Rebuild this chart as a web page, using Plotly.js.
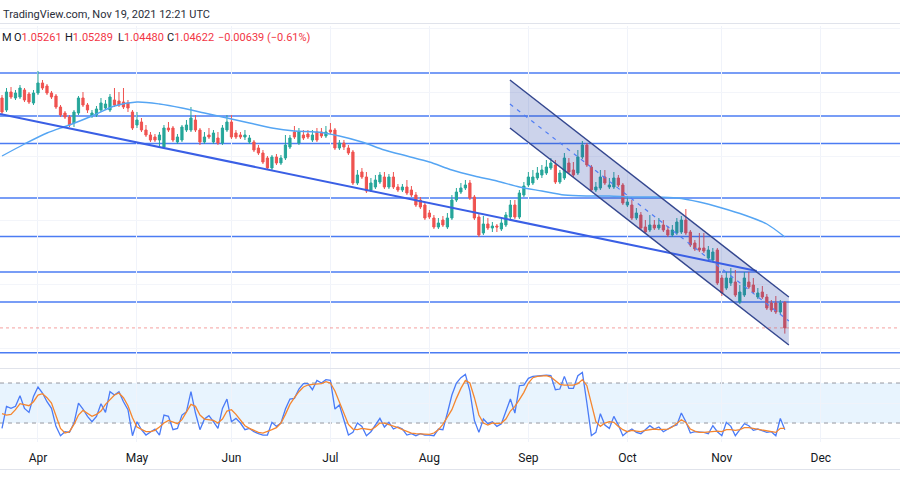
<!DOCTYPE html>
<html>
<head>
<meta charset="utf-8">
<script src="https://cdn.plot.ly/plotly-3.0.1.min.js"></script>
<style>
  html, body { margin: 0; padding: 0; background: #ffffff; }
  #chart { width: 900px; height: 500px; }
</style>
</head>
<body>
<div id="chart"></div>
<script>
// ---------- DATA ----------
const firstDay = '2021-03-22';
const lastDay = '2021-11-19';

const open = [1.1037,1.1007,1.1052,1.1037,1.10395,1.1057,1.1047,1.10245,1.10495,1.10745,
1.1067,1.10495,1.1042,1.10145,1.09995,1.09895,1.09745,1.09995,1.1037,1.10195,
1.0992,1.09945,1.1007,1.1012,1.1007,1.1032,1.10295,1.1027,1.10245,1.1002,
1.09695,1.0977,1.0957,1.09445,1.09395,1.0932,1.09145,1.0962,1.0962,1.0927,
1.0932,1.0957,1.0957,1.0982,1.0957,1.0927,1.09445,1.0927,1.0937,1.09245,
1.0957,1.0977,1.09495,1.09445,1.09395,1.0927,1.0927,1.0912,1.08995,1.0887,
1.0862,1.08895,1.08745,1.0887,1.09145,1.0952,1.09245,1.09445,1.0947,1.0932,
1.0952,1.0952,1.0942,1.0957,1.0957,1.0912,1.09245,1.0912,1.0902,1.08245,
1.0852,1.08395,1.0807,1.08145,1.0827,1.08395,1.08145,1.08395,1.08145,1.0807,
1.08145,1.0807,1.07945,1.0782,1.07695,1.07495,1.0737,1.07145,1.0732,1.07145,
1.0737,1.0782,1.0802,1.0812,1.08245,1.07895,1.07395,1.06995,1.0722,1.0712,
1.0717,1.07095,1.07195,1.07395,1.07695,1.07395,1.07945,1.08195,1.08245,1.0837,
1.08445,1.08495,1.0862,1.08695,1.0827,1.0837,1.08745,1.0857,1.08495,1.08895,
1.09195,1.08645,1.0807,1.0812,1.08395,1.08145,1.08145,1.0837,1.08195,1.07695,
1.07695,1.0737,1.07445,1.07145,1.0707,1.07195,1.0712,1.07195,1.0707,1.06945,
1.06995,1.0702,1.0732,1.0702,1.06745,1.0662,1.0662,1.0637,1.0632,1.0657,
1.0587,1.0562,1.05745,1.0577,1.0527,1.05445,1.0577,1.05695,1.05395,1.0552,
1.05395,1.05245,1.05245,1.0502,1.05261];

const high = [1.10445,1.1062,1.10645,1.1057,1.10695,1.1062,1.1052,1.1057,1.11045,1.1082,
1.1072,1.10545,1.1047,1.10195,1.10045,1.09945,1.1007,1.1042,1.1052,1.10245,
1.1007,1.1017,1.1037,1.1032,1.1047,1.1062,1.1052,1.1062,1.1032,1.1007,
1.1002,1.0987,1.09695,1.0952,1.0947,1.0952,1.09695,1.0977,1.0967,1.0947,
1.09695,1.0982,1.10145,1.09945,1.0962,1.0952,1.0962,1.0957,1.0952,1.09695,
1.09945,1.09945,1.0957,1.0952,1.0957,1.09445,1.0932,1.09195,1.0907,1.0892,
1.08945,1.0897,1.08945,1.09445,1.09445,1.0967,1.0962,1.0957,1.0957,1.0957,
1.0962,1.0962,1.0967,1.09745,1.0962,1.0932,1.0932,1.09195,1.0907,1.0857,
1.0862,1.0852,1.0837,1.08445,1.0852,1.0852,1.0847,1.0852,1.0822,1.0822,
1.0832,1.0817,1.0802,1.07895,1.0777,1.0757,1.07445,1.0737,1.0742,1.07495,
1.07945,1.0812,1.08245,1.0832,1.0832,1.07945,1.0747,1.0742,1.0737,1.0727,
1.0722,1.0737,1.0752,1.0782,1.0782,1.0807,1.0827,1.0852,1.0857,1.08645,
1.08695,1.0882,1.0887,1.0882,1.0857,1.08995,1.0887,1.0877,1.0907,1.09295,
1.09245,1.08695,1.0827,1.0857,1.0857,1.0837,1.0852,1.08445,1.08245,1.0792,
1.0782,1.0762,1.0752,1.0732,1.07445,1.0732,1.0737,1.0732,1.0717,1.07195,
1.0737,1.0742,1.07595,1.0707,1.0682,1.06995,1.06995,1.0667,1.0662,1.0662,
1.05945,1.0602,1.0612,1.0607,1.05695,1.0602,1.0602,1.0587,1.0562,1.0567,
1.0547,1.0532,1.0542,1.0532,1.05289];

const low = [1.0997,1.1002,1.10345,1.1032,1.10345,1.1027,1.1022,1.10195,1.10445,1.1057,
1.10445,1.10345,1.10095,1.09895,1.09845,1.09645,1.09645,1.09945,1.10145,1.09995,
1.0987,1.09895,1.1002,1.10095,1.1002,1.10145,1.10145,1.10095,1.1002,1.0957,
1.0962,1.0952,1.09395,1.0927,1.0927,1.09145,1.0912,1.0952,1.0927,1.0922,
1.0927,1.0952,1.0952,1.0952,1.09195,1.0922,1.09345,1.0922,1.09195,1.09195,
1.0952,1.09345,1.09345,1.09345,1.0932,1.0922,1.0902,1.08945,1.0872,1.0857,
1.0857,1.08695,1.08695,1.0882,1.09095,1.09345,1.09195,1.0932,1.09345,1.0927,
1.0927,1.0937,1.0937,1.0947,1.0907,1.0907,1.0907,1.08945,1.08195,1.08195,
1.08345,1.07995,1.0802,1.08095,1.0822,1.08095,1.08095,1.08095,1.0802,1.0802,
1.07945,1.07895,1.07645,1.07595,1.0732,1.07345,1.07095,1.07095,1.07145,1.07095,
1.0732,1.0777,1.0797,1.0807,1.0782,1.0732,1.06895,1.06945,1.0707,1.0702,
1.0702,1.07045,1.07145,1.07345,1.07345,1.07345,1.07895,1.08145,1.08195,1.0832,
1.0837,1.08445,1.0857,1.0822,1.0822,1.0832,1.0847,1.08395,1.08445,1.08845,
1.08645,1.0802,1.0802,1.0807,1.08195,1.08095,1.08095,1.08145,1.07695,1.07645,
1.0732,1.0732,1.0707,1.0697,1.0702,1.0707,1.0707,1.0702,1.06895,1.06895,
1.06945,1.0697,1.06945,1.06645,1.06545,1.0652,1.06495,1.0632,1.0627,1.05695,
1.0542,1.0557,1.0567,1.05395,1.0522,1.05395,1.05595,1.0547,1.05345,1.05345,
1.0507,1.0502,1.0497,1.0497,1.0448];

const close = [1.1002,1.1052,1.10395,1.10495,1.1062,1.1032,1.1027,1.10495,1.10745,1.1062,
1.10495,1.10395,1.10145,1.09945,1.09895,1.09695,1.1002,1.1037,1.10195,1.1007,
1.09995,1.10095,1.10245,1.1022,1.10395,1.10195,1.10195,1.10145,1.1012,1.0962,
1.0982,1.0957,1.09445,1.0932,1.0932,1.09445,1.0962,1.0957,1.0932,1.09395,
1.09645,1.09695,1.0987,1.0957,1.0927,1.09395,1.09395,1.09495,1.09245,1.0962,
1.0977,1.09395,1.09395,1.09395,1.09445,1.0937,1.0907,1.08995,1.0877,1.0862,
1.08895,1.08745,1.0887,1.09195,1.0937,1.09395,1.0952,1.0937,1.09395,1.09445,
1.0932,1.0942,1.0952,1.0952,1.0912,1.09245,1.09145,1.08995,1.08245,1.08445,
1.08395,1.08045,1.08245,1.0832,1.08445,1.08145,1.08395,1.08145,1.0807,1.08145,
1.07995,1.07945,1.07695,1.07645,1.0737,1.07395,1.07145,1.07245,1.07195,1.0737,
1.0782,1.0802,1.0812,1.08195,1.0787,1.0737,1.06945,1.0722,1.0712,1.0717,
1.07145,1.07245,1.07445,1.07695,1.07395,1.07995,1.0817,1.08395,1.08395,1.08495,
1.0857,1.08645,1.08745,1.0827,1.08495,1.0887,1.0852,1.08445,1.08895,1.09195,
1.08695,1.0807,1.08145,1.08395,1.08245,1.08195,1.0837,1.08195,1.07745,1.0777,
1.0737,1.07495,1.0712,1.0702,1.07195,1.0712,1.07195,1.0707,1.06945,1.0707,
1.0727,1.0732,1.06995,1.06695,1.06595,1.0657,1.06545,1.0657,1.0652,1.05745,
1.05495,1.0587,1.0587,1.05445,1.0552,1.0587,1.05645,1.0552,1.05495,1.05395,
1.0512,1.0507,1.0502,1.05245,1.04622];

// 50-day moving average, read weekly
const maDates = ['2021-03-22','2021-03-29','2021-04-05','2021-04-12','2021-04-19','2021-04-26',
'2021-05-03','2021-05-10','2021-05-17','2021-05-24','2021-05-31','2021-06-07','2021-06-14',
'2021-06-21','2021-06-28','2021-07-05','2021-07-12','2021-07-19','2021-07-26','2021-08-02',
'2021-08-09','2021-08-16','2021-08-23','2021-08-30','2021-09-06','2021-09-13','2021-09-20',
'2021-09-27','2021-10-04','2021-10-11','2021-10-18','2021-10-25','2021-11-01','2021-11-08',
'2021-11-15','2021-11-19'];
const maValues = [1.0892,1.0922,1.09495,1.09695,1.0992,1.1017,
1.1027,1.1022,1.1012,1.09995,1.0987,1.09745,1.0962,
1.09545,1.0952,1.0942,1.0927,1.0907,1.0892,1.0877,
1.0857,1.0842,1.08295,1.08145,1.08045,1.07945,1.0792,
1.0792,1.07895,1.07895,1.0787,1.0777,1.0762,1.07445,
1.0722,1.06895];

// Stochastic %K and %D
const stochK = [12,45,42,45,61,42,36,60,74,65,52,42,15,1,7,6,20,50,41,30,
22,30,49,36,67,62,67,52,40,1,22,10,2,7,11,2,32,30,10,12,
32,37,67,35,10,26,31,22,12,42,56,22,27,20,10,12,7,4,2,2,
21,15,20,41,56,57,71,79,79,70,84,80,85,84,41,47,26,2,6,20,
15,1,7,17,27,14,21,11,14,11,2,4,1,4,2,2,1,11,10,35,
62,80,88,93,68,24,6,26,19,22,15,19,37,56,35,76,77,87,90,91,
91,92,91,70,71,90,72,72,91,96,50,1,6,34,17,12,30,17,1,7,
11,6,4,10,16,11,14,7,11,15,17,35,22,5,7,7,6,4,16,7,
1,21,15,1,11,19,16,9,11,9,6,7,1,27,10];
const stochD = [34,32,33,40,49,48,46,52,62,64,58,50,32,12,5,7,18,32,39,35,
30,33,38,48,55,62,65,58,46,28,14,10,7,7,9,14,20,24,21,19,
25,36,48,45,32,26,25,24,20,26,38,40,33,24,16,12,9,6,5,7,
10,13,20,33,48,58,67,74,77,78,79,79,82,80,68,52,35,18,11,10,
12,11,10,14,20,20,18,15,13,10,7,5,4,4,3,3,5,10,18,30,
40,57,72,84,80,58,32,20,17,20,19,20,26,38,45,55,66,80,88,90,
91,91,89,83,78,77,77,77,79,85,76,48,22,15,20,22,21,15,10,7,
9,8,7,9,10,11,10,10,11,14,19,25,21,11,8,6,6,7,8,8,
7,10,10,9,10,13,13,12,10,9,8,7,6,12,12];

// Drawn levels and tools
const hLevels = [1.10995, 1.0992, 1.09233, 1.0787, 1.06908, 1.0602, 1.0527, 1.04003];
const lastPrice = 1.04622;
const trendDates = ['2021-03-19 13:20', '2021-11-10 18:43'];
const trendPrices = [1.0997, 1.06045];
const channelDates = ['2021-08-25 21:36', '2021-11-19 21:36'];
const channelUpper = [1.1082, 1.05395];
const channelMid = [1.1022, 1.04795];
const channelLower = [1.0962, 1.04195];
const stochUpper = 80, stochLower = 20;

const monthTicks = ['2021-04-01','2021-05-03','2021-06-01','2021-07-01','2021-08-02','2021-09-01','2021-10-01','2021-11-01','2021-12-01'];
const monthLabels = ['Apr','May','Jun','Jul','Aug','Sep','Oct','Nov','Dec'];

// trading-day calendar (weekdays)
function tradingDays(a, b) {
  const out = [];
  const d = new Date(a + 'T00:00:00Z');
  const e = new Date(b + 'T00:00:00Z');
  while (d <= e) {
    const w = d.getUTCDay();
    if (w !== 0 && w !== 6) out.push(d.toISOString().slice(0, 10));
    d.setUTCDate(d.getUTCDate() + 1);
  }
  return out;
}
const dates = tradingDays(firstDay, lastDay);

// ---------- TRACES ----------
const GREEN = '#26a69a', RED = '#ef5350';
const traces = [
  { // channel fill
    type: 'scatter', mode: 'lines', xaxis: 'x', yaxis: 'y',
    x: [channelDates[0], channelDates[1], channelDates[1], channelDates[0], channelDates[0]],
    y: [channelUpper[0], channelUpper[1], channelLower[1], channelLower[0], channelUpper[0]],
    fill: 'toself', fillcolor: 'rgba(40,70,170,0.24)', line: { width: 0 }, hoverinfo: 'skip'
  },
  { // MA
    type: 'scatter', mode: 'lines', x: maDates, y: maValues,
    line: { color: '#55a5f3', width: 1.4, shape: 'spline', smoothing: 0.8 }, hoverinfo: 'skip'
  },
  { // trend line
    type: 'scatter', mode: 'lines', x: trendDates, y: trendPrices,
    line: { color: '#3a5fe5', width: 2 }, hoverinfo: 'skip'
  },
  {
    type: 'candlestick', x: dates, open: open, high: high, low: low, close: close,
    increasing: { line: { color: GREEN, width: 1 }, fillcolor: GREEN },
    decreasing: { line: { color: RED, width: 1 }, fillcolor: RED },
    whiskerwidth: 0, hoverinfo: 'skip'
  },
  { // channel edges
    type: 'scatter', mode: 'lines', x: channelDates, y: channelUpper,
    line: { color: '#34478f', width: 1.5 }, hoverinfo: 'skip'
  },
  {
    type: 'scatter', mode: 'lines', x: channelDates, y: channelLower,
    line: { color: '#34478f', width: 1.5 }, hoverinfo: 'skip'
  },
  {
    type: 'scatter', mode: 'lines', x: channelDates, y: channelMid,
    line: { color: '#4f7df5', width: 1.2, dash: '4px,5px' }, hoverinfo: 'skip'
  },
  { // stochastic
    type: 'scatter', mode: 'lines', x: dates, y: stochK, xaxis: 'x', yaxis: 'y2',
    line: { color: '#4a7bf7', width: 1.3 }, hoverinfo: 'skip'
  },
  {
    type: 'scatter', mode: 'lines', x: dates, y: stochD, xaxis: 'x', yaxis: 'y2',
    line: { color: '#f5862f', width: 1.3 }, hoverinfo: 'skip'
  }
];

// ---------- SHAPES ----------
const shapes = [];
hLevels.forEach(v => shapes.push({
  type: 'line', xref: 'paper', yref: 'y', x0: 0, x1: 1, y0: v, y1: v,
  line: { color: '#4b7cf3', width: 1.5 }, layer: 'below'
}));
shapes.push({ type: 'line', xref: 'paper', yref: 'y', x0: 0, x1: 1, y0: lastPrice, y1: lastPrice,
  line: { color: 'rgba(239,83,80,0.55)', width: 1, dash: 'dot' } });
shapes.push({ type: 'rect', xref: 'paper', yref: 'y2', x0: 0, x1: 1, y0: stochLower, y1: stochUpper,
  fillcolor: 'rgba(33,150,243,0.10)', line: { width: 0 }, layer: 'below' });
[stochUpper, stochLower].forEach(v => shapes.push({
  type: 'line', xref: 'paper', yref: 'y2', x0: 0, x1: 1, y0: v, y1: v,
  line: { color: '#9598a1', width: 1, dash: '4px,4px' }, layer: 'below'
}));
// pane separators
[[23.5, '#e0e3eb'], [368.5, '#e0e3eb'], [438.5, '#eef0f5'], [469.5, '#e0e3eb']].forEach(([py, c]) => shapes.push({
  type: 'line', xref: 'paper', yref: 'paper', x0: 0, x1: 1, y0: 1 - py / 500, y1: 1 - py / 500,
  line: { color: c, width: 1 }, layer: 'below'
}));

// ---------- ANNOTATIONS ----------
const font = 'Roboto, "Open Sans", sans-serif';
const px = v => v / 900, py = v => 1 - v / 500;
const ann = (x, y, text, color, size) => ({
  xref: 'paper', yref: 'paper', x: px(x), y: py(y), xanchor: 'left', yanchor: 'middle',
  text: text, showarrow: false, font: { family: font, size: size || 11, color: color || '#131722' }
});
const annotations = [
  ann(1, 14, 'TradingView.com, Nov 19, 2021 12:21 UTC', '#2a2e39', 11),
  ann(0, 38, 'M', '#131722', 11),
  ann(12, 38, 'O<span style="color:#f23645">1.05261</span>'),
  ann(63, 38, 'H<span style="color:#f23645">1.05289</span>'),
  ann(116, 38, 'L<span style="color:#f23645">1.04480</span>'),
  ann(165, 38, 'C<span style="color:#f23645">1.04622</span>'),
  ann(216, 38, '−0.00639 (−0.61%)', '#f23645')
];

// ---------- LAYOUT ----------
const layout = {
  width: 900, height: 500,
  margin: { l: 0, r: 0, t: 0, b: 0 },
  paper_bgcolor: '#ffffff', plot_bgcolor: '#ffffff',
  showlegend: false, hovermode: false,
  font: { family: font, size: 11, color: '#131722' },
  xaxis: {
    type: 'date', anchor: 'y2',
    range: ['2021-03-19 13:20', '2021-12-24 14:24'],
    rangebreaks: [{ bounds: ['sat', 'mon'] }],
    rangeslider: { visible: false },
    tickmode: 'array', tickvals: monthTicks, ticktext: monthLabels,
    ticks: 'outside', ticklen: 5, tickcolor: 'rgba(0,0,0,0)',
    tickfont: { family: font, size: 12, color: '#131722' },
    showgrid: true, gridcolor: '#f0f3fa', gridwidth: 1,
    zeroline: false, showline: false, fixedrange: true
  },
  yaxis: {
    domain: [0.264, 0.948], range: [1.0362, 1.1217],
    showticklabels: false, showgrid: true, gridcolor: '#f3f5fa',
    tick0: 1.1052, dtick: 0.016, zeroline: false, showline: false, fixedrange: true
  },
  yaxis2: {
    domain: [0.116, 0.262], range: [-8.45, 101.05],
    showticklabels: false, showgrid: true, gridcolor: '#f0f3fa',
    tickmode: 'array', tickvals: [50], zeroline: false, showline: false, fixedrange: true
  },
  shapes: shapes,
  annotations: annotations
};

Plotly.newPlot('chart', traces, layout, { staticPlot: true, displayModeBar: false });
</script>
</body>
</html>
